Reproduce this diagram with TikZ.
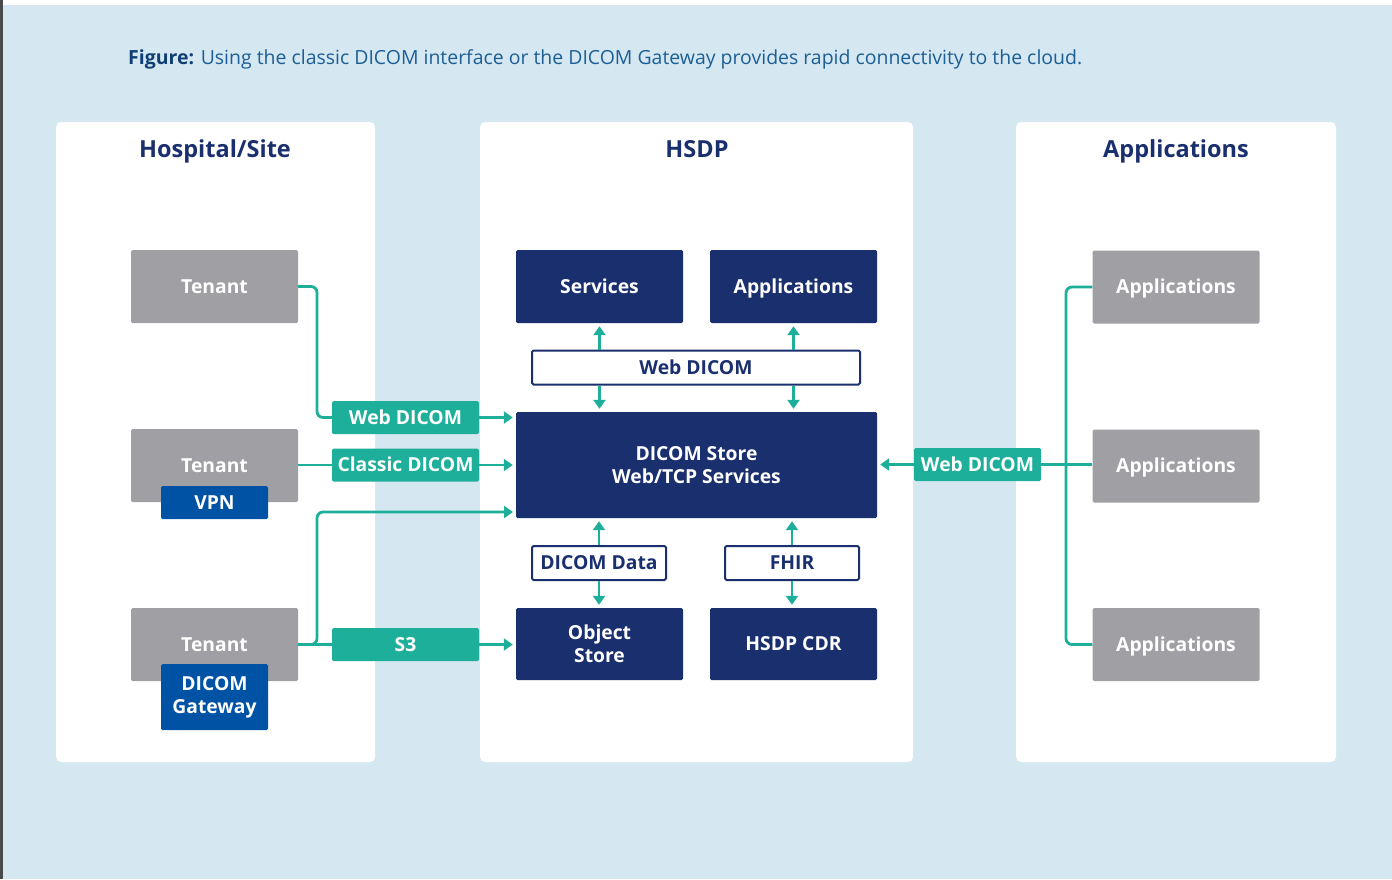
\documentclass[tikz,border=0pt]{standalone}
\usepackage{fontspec}
\setmainfont{Open Sans}
\usetikzlibrary{arrows.meta}
\definecolor{bgblue}{HTML}{D5E8F1}
\definecolor{navy}{HTML}{1A2F6E}
\definecolor{tealc}{HTML}{1EAF9B}
\definecolor{greybox}{HTML}{A0A0A4}
\definecolor{vpnblue}{HTML}{0052A5}
\definecolor{capblue}{HTML}{1C5E96}
\definecolor{capnavy}{HTML}{0F3F74}
\definecolor{edgegrey}{HTML}{4A4A4A}
\begin{document}
\begin{tikzpicture}[x=1pt,y=-1pt,
  panel/.style={fill=white, rounded corners=5pt, inner sep=0pt, draw=none},
  paneltitle/.style={text=navy, font=\fontsize{23.5}{28}\selectfont\bfseries, text height=16.8pt, text depth=0pt},
  boxbase/.style={inner sep=0pt, align=center, rounded corners=1.5pt, font=\fontsize{19.3}{23}\selectfont\bfseries},
  sl/.style={text height=13.8pt, text depth=0pt},
  greyb/.style={boxbase, fill=greybox, text=white, minimum width=167pt, minimum height=73pt},
  navyb/.style={boxbase, fill=navy, text=white, minimum width=167pt, minimum height=73pt},
  subb/.style={boxbase, fill=vpnblue, text=white, minimum width=107pt},
  tealb/.style={boxbase, sl, fill=tealc, text=white, minimum height=33pt},
  outb/.style={boxbase, sl, fill=white, draw=navy, line width=2pt, text=navy, minimum height=34pt},
  link/.style={draw=tealc, line width=2.8pt},
  arr/.style={link, -{Triangle[length=9pt,width=12pt]}, shorten >=3pt}
]
\useasboundingbox (0,0) rectangle (1392,879);
\fill[bgblue] (0,0) rectangle (1392,879);
\fill[white] (0,0) rectangle (1392,5);
\fill[edgegrey] (0,0) rectangle (3,879);

% caption
\node[anchor=base west, text=capblue, font=\fontsize{19.45}{22}\selectfont, inner sep=0pt] (cap) at (128,64)
  {\textcolor{capnavy}{\bfseries Figure:} Using the classic DICOM interface or the DICOM Gateway provides rapid connectivity to the cloud.};

% panels
\node[panel, minimum width=319pt, minimum height=640pt] (pl) at (215.5,442) {};
\node[panel, minimum width=433pt, minimum height=640pt] (pm) at (696.5,442) {};
\node[panel, minimum width=320pt, minimum height=640pt] (pr) at (1176,442) {};
\node[paneltitle] (tl) at (215,149) {Hospital/Site};
\node[paneltitle] (tm) at (697,149) {HSDP};
\node[paneltitle] (tr) at (1176,149) {Applications};

% hospital side
\node[greyb, sl] (t1) at (214.5,286.5) {Tenant};
\node[greyb, sl] (t2) at (214.5,465.5) {Tenant};
\node[greyb, sl] (t3) at (214.5,644.5) {Tenant};
\node[subb, sl, minimum height=33pt] (vpn) at (214.5,502.5) {VPN};
\node[subb, minimum height=66pt] (gw) at (214.5,697) {DICOM\\Gateway};

\node[tealb, minimum width=147pt] (wd1) at (405.5,417.5) {Web DICOM};
\node[tealb, minimum width=147pt] (cd) at (405.5,465) {Classic DICOM};
\node[tealb, minimum width=147pt] (s3) at (405.5,644.5) {S3};

% HSDP
\node[navyb, sl] (srv) at (599.5,286.5) {Services};
\node[navyb, sl] (app) at (793.5,286.5) {Applications};
\node[outb, minimum width=328pt] (wdc) at (696,367.5) {Web DICOM};
\node[navyb, minimum width=361pt, minimum height=106pt] (store) at (696.5,465) {DICOM Store\\Web/TCP Services};
\node[outb, minimum width=134pt] (dd) at (599,563) {DICOM Data};
\node[outb, minimum width=134pt] (fhir) at (792,563) {FHIR};
\node[navyb, minimum height=72pt] (obj) at (599.5,644) {Object\\Store};
\node[navyb, sl, minimum height=72pt] (cdr) at (793.5,644) {HSDP CDR};

% applications side
\node[greyb, sl] (a1) at (1176,287) {Applications};
\node[greyb, sl] (a2) at (1176,466) {Applications};
\node[greyb, sl] (a3) at (1176,644.5) {Applications};
\node[tealb, minimum width=127pt] (wdr) at (977.5,464.5) {Web DICOM};

% junction coordinates
\coordinate (jl) at (317,0);
\coordinate (jr) at (1066,0);
\coordinate (b3) at (516,512);

% left connectors
\draw[link, rounded corners=6pt] (t1.east) -- (jl |- t1.east) -- (jl |- wd1.west) -- (wd1.west);
\draw[arr] (wd1.east) -- (wd1.east -| store.west);
\draw[link] (cd.west -| t2.east) -- (cd.west);
\draw[arr] (cd.east) -- (cd.east -| store.west);
\draw[link] (t3.east) -- (s3.west);
\draw[arr] (s3.east) -- (s3.east -| obj.west);
\draw[arr, rounded corners=6pt] (t3.east) -- (jl |- t3.east) -- (jl |- b3) -- (b3);

% HSDP vertical arrows
\draw[arr] (srv.south |- wdc.north) -- (srv.south);
\draw[arr] (app.south |- wdc.north) -- (app.south);
\draw[arr] (srv.south |- wdc.south) -- (srv.south |- store.north);
\draw[arr] (app.south |- wdc.south) -- (app.south |- store.north);
\draw[arr] (dd.north) -- (dd.north |- store.south);
\draw[arr] (dd.south) -- (dd.south |- obj.north);
\draw[arr] (fhir.north) -- (fhir.north |- store.south);
\draw[arr] (fhir.south) -- (fhir.south |- cdr.north);

% right connectors
\draw[arr] (wdr.west) -- (wdr.west -| store.east);
\draw[link] (wdr.east) -- (wdr.east -| a2.west);
\draw[link, rounded corners=6pt] (a1.west) -- (jr |- a1.west) -- (jr |- a3.west) -- (a3.west);
\end{tikzpicture}
\end{document}
